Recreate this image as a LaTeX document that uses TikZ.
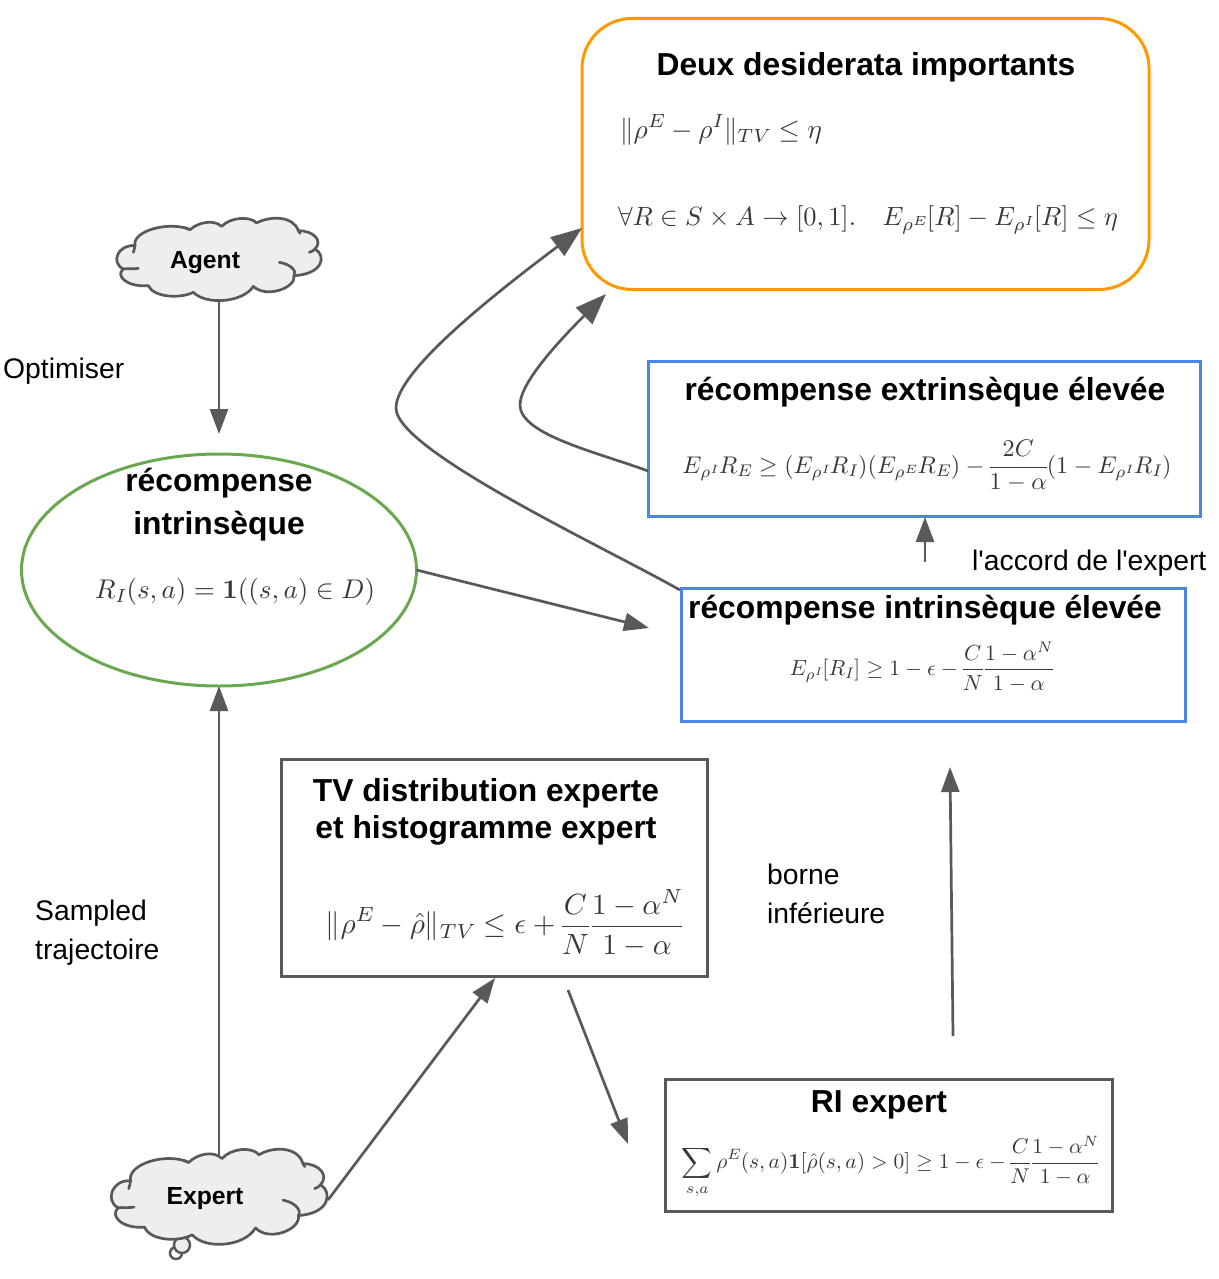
\documentclass[tikz,border=0pt]{standalone}
\usepackage[no-math]{fontspec}
\usepackage{amsmath,amssymb,graphicx}
\newfontfamily\arialf{Liberation Sans}
\usetikzlibrary{arrows.meta,shapes.geometric}
\definecolor{linegray}{HTML}{595959}
\definecolor{cloudfill}{HTML}{EEEEEE}
\definecolor{orangeb}{HTML}{FF9900}
\definecolor{blueb}{HTML}{4A86E8}
\definecolor{greenb}{HTML}{6AA84F}
\definecolor{mathc}{HTML}{383838}
\scriptspace=0pt
\nulldelimiterspace=0pt
\newcommand{\fitmath}[2]{\resizebox{#1pt}{!}{$\displaystyle #2$}}
\newcommand{\boundfrac}{\frac{C}{N}\mkern2mu\frac{1-\alpha^N}{1-\alpha}}
\tikzset{
  x=1pt,y=-1pt,
  conn/.style={draw=linegray,line width=2.7pt,-{Triangle[length=25pt,width=18pt]}},
  bigconn/.style={draw=linegray,line width=2.7pt,-{Triangle[length=31pt,width=23pt]}},
  boxbase/.style={draw,line width=3pt,inner sep=0pt,outer sep=0pt},
  bluebox/.style={boxbase,draw=blueb},
  graybox/.style={boxbase,draw=linegray},
  titletext/.style={font=\arialf\bfseries\fontsize{31.8}{36}\selectfont,anchor=base,inner sep=0pt,text=black},
  cloudtext/.style={font=\arialf\bfseries\fontsize{24.7}{28}\selectfont,anchor=base,inner sep=0pt},
  labeltext/.style={font=\arialf\fontsize{28.3}{32}\selectfont,anchor=base west,inner sep=0pt},
  mathtext/.style={inner sep=0pt,text=mathc},
  cloudshape/.pic={
    \draw[line width=2.7pt,draw=linegray,fill=cloudfill,line join=round]
      (135,140) .. controls (125,95) and (240,65) .. (300,92)
      .. controls (325,70) and (370,60) .. (395,82)
      .. controls (420,55) and (480,50) .. (500,72)
      .. controls (540,50) and (610,50) .. (625,95)
      .. controls (670,95) and (700,125) .. (675,150)
      .. controls (710,170) and (700,225) .. (612,230)
      .. controls (620,265) and (530,300) .. (490,262)
      .. controls (460,310) and (350,320) .. (310,280)
      .. controls (270,300) and (190,295) .. (175,260)
      .. controls (110,265) and (75,230) .. (100,210)
      .. controls (60,190) and (85,135) .. (135,140) -- cycle;
    \draw[line width=2.7pt,draw=linegray,line cap=round]
      (145,208) .. controls (125,211) and (110,208) .. (100,210)
      (135,140) .. controls (133,150) and (132,155) .. (130,160)
      (675,150) .. controls (670,155) and (665,158) .. (658,160)
      (568,190) .. controls (600,195) and (622,215) .. (612,230)
      (625,95) .. controls (626,98) and (628,100) .. (630,103)
      (300,92) .. controls (295,90) and (290,88) .. (285,86);
  }
}
\begin{document}
\begin{tikzpicture}
\useasboundingbox (0,0) rectangle (1218,1279);
% clouds
\pic[xscale=1/3,yscale=1/3] at (90,199) {cloudshape};
\draw[line width=2.5pt,draw=linegray,fill=white] (176,1253) circle (6);
\draw[line width=2.5pt,draw=linegray,fill=cloudfill] (182,1245) circle (8);
\pic[xscale=.352,yscale=.385] at (83,1127) {cloudshape};
\node[cloudtext] (agent) at (205,268) {Agent};
\node[cloudtext] (expert) at (205,1204) {Expert};
% boxes
\node[boxbase,draw=orangeb,rounded corners=50pt,minimum width=567pt,minimum height=271pt] (goal) at (865.5,154) {};
\node[bluebox,minimum width=552pt,minimum height=155pt] (ext) at (924,439) {};
\node[bluebox,minimum width=504pt,minimum height=133pt] (intr) at (933,655) {};
\node[graybox,minimum width=426pt,minimum height=217pt] (tv) at (494,868) {};
\node[graybox,minimum width=447pt,minimum height=132pt] (ri) at (888.5,1145.5) {};
\node[boxbase,draw=greenb,ellipse,minimum width=395pt,minimum height=232pt] (ell) at (219,570) {};
% titles
\node[titletext] (goalt) at (866,76) {Deux desiderata importants};
\node[titletext] (extt) at (925,400) {récompense extrinsèque élevée};
\node[titletext] (intrt) at (925,618) {récompense intrinsèque élevée};
\node[titletext] (ellt1) at (219,491) {récompense};
\node[titletext] (ellt2) at (219,534) {intrinsèque};
\node[titletext] (tvt1) at (486,801) {TV distribution experte};
\node[titletext] (tvt2) at (486,838) {et histogramme expert};
\node[titletext] (rit) at (879,1112) {RI expert};
% formulas
\node[mathtext] (m1) at (721,130) {\fitmath{202}{\|\rho^E-\rho^I\|_{TV}\leq\eta}};
\node[mathtext] (m2) at (868,220) {\fitmath{500}{\forall R\in S\times A\to[0,1].\quad E_{\rho^E}[R]-E_{\rho^I}[R]\leq\eta}};
\node[mathtext] (m3) at (927,466) {\fitmath{489}{E_{\rho^I}R_E\geq(E_{\rho^I}R_I)(E_{\rho^E}R_E)-\frac{2C}{1-\alpha}(1-E_{\rho^I}R_I)}};
\node[mathtext] (m4) at (921,667) {\fitmath{263}{E_{\rho^I}[R_I]\geq1-\epsilon-\boundfrac}};
\node[mathtext] (m5) at (504,923) {\fitmath{356}{\|\rho^E-\hat\rho\|_{TV}\leq\epsilon+\boundfrac}};
\node[mathtext] (m6) at (890,1167) {\fitmath{416}{\sum_{s,a}\rho^E(s,a)\mathbf{1}[\hat\rho(s,a)>0]\geq1-\epsilon-\boundfrac}};
\node[mathtext] (m7) at (235,592) {\fitmath{280}{R_I(s,a)=\mathbf{1}((s,a)\in D)}};
% labels
\node[labeltext] (l1) at (3,378) {Optimiser};
\node[labeltext] (l2) at (35,920) {Sampled};
\node[labeltext] (l3) at (35,959) {trajectoire};
\node[labeltext] (l4) at (767,884) {borne};
\node[labeltext] (l5) at (767,923) {inférieure};
\node[labeltext] (l6) at (972,570) {l'accord de l'expert};
% connector ends
\coordinate (agentout) at (219,302);
\coordinate (ellin) at (219,434);
\coordinate (expertup) at (219,1155);
\coordinate (expertright) at (328,1200);
\coordinate (tvin) at (495,978);
\coordinate (tvout) at (568,990);
\coordinate (riin) at (628,1144);
\coordinate (riout) at (953,1036);
\coordinate (intrin2) at (950,767);
\coordinate (intrin) at (649,628);
\coordinate (intrup) at (925,562);
\coordinate (extin) at (925,517);
\coordinate (intrcorner) at (680,590);
\coordinate (goalin1) at (582,228);
\coordinate (extleft) at (648,471);
\coordinate (goalin2) at (606,294);
% connectors
\draw[conn] (agentout) -- (ellin);
\draw[conn] (expertup) -- (ell.south);
\draw[conn] (expertright) -- (tvin);
\draw[conn] (tvout) -- (riin);
\draw[conn] (riout) -- (intrin2);
\draw[conn] (ell.east) -- (intrin);
\draw[conn] (intrup) -- (extin);
\draw[bigconn] (intrcorner) .. controls (600,545) and (396,450) .. (396,408) .. controls (396,370) and (500,290) .. (goalin1);
\draw[bigconn] (extleft) .. controls (600,453) and (520,435) .. (520,405) .. controls (520,380) and (570,330) .. (goalin2);
\end{tikzpicture}
\end{document}
